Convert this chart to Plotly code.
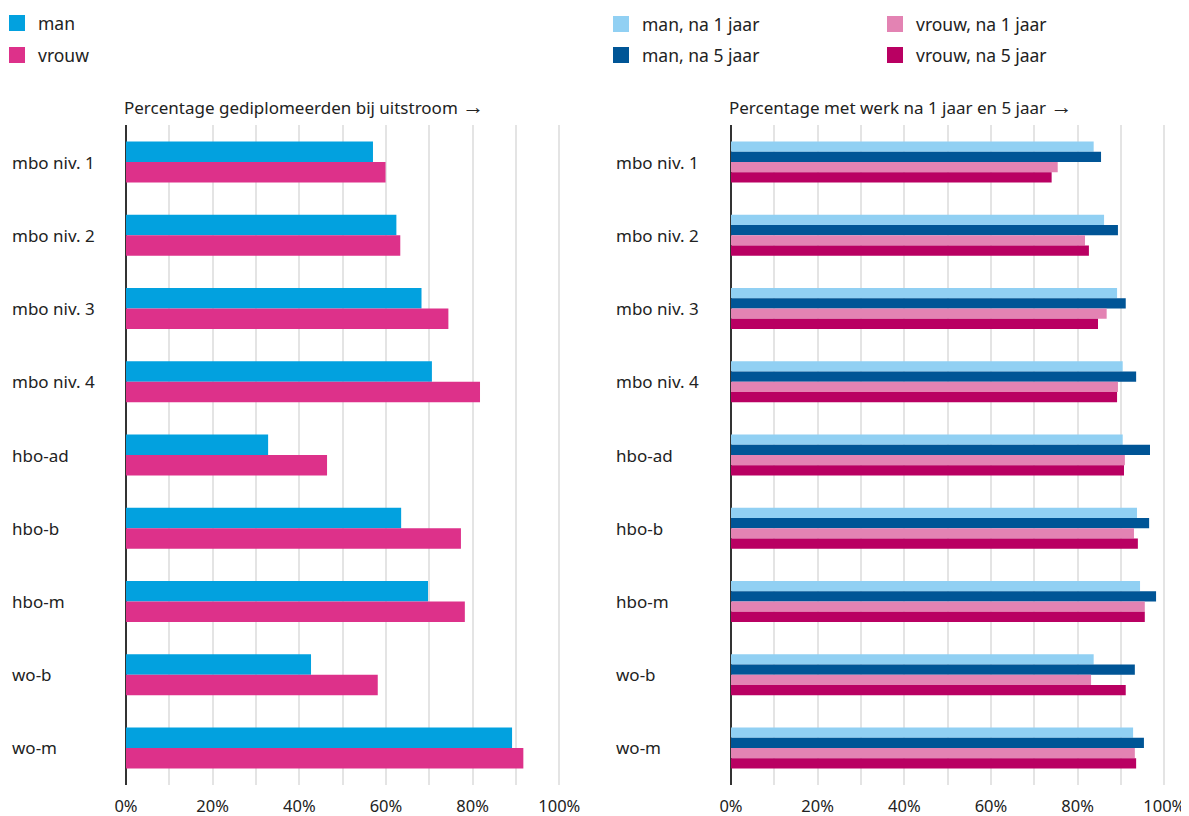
import plotly.graph_objects as go

categories = ["mbo niv. 1", "mbo niv. 2", "mbo niv. 3", "mbo niv. 4", "hbo-ad",
              "hbo-b", "hbo-m", "wo-b", "wo-m"]

gedipl_man = [57.0, 62.4, 68.2, 70.6, 32.8, 63.5, 69.7, 42.7, 89.1]
gedipl_vrouw = [59.9, 63.3, 74.4, 81.7, 46.4, 77.3, 78.2, 58.1, 91.7]

werk_man_1 = [83.7, 86.1, 89.1, 90.4, 90.4, 93.7, 94.4, 83.7, 92.8]
werk_man_5 = [85.4, 89.3, 91.1, 93.5, 96.7, 96.5, 98.1, 93.2, 95.3]
werk_vrouw_1 = [75.4, 81.7, 86.7, 89.3, 90.9, 93.0, 95.5, 83.1, 93.2]
werk_vrouw_5 = [74.0, 82.6, 84.7, 89.1, 90.7, 93.9, 95.5, 91.1, 93.5]

tick_vals = [0, 20, 40, 60, 80, 100]
tick_text = ["0%", "20%", "40%", "60%", "80%", "100%"]

title_left = "Percentage gediplomeerden bij uitstroom"
title_right = "Percentage met werk na 1 jaar en 5 jaar"

# page body has a default 8px margin: lay out in reference pixels minus OFF
OFF = 8
W, H = 1189 - OFF, 816 - OFF
FONT = "Noto Sans"
TXT = "#222222"
GRID = "#e4e4e4"

PX_PER_UNIT = 4.333
R0, R1 = -0.3, 100.6
LEFT0 = 126
RIGHT0 = 731


def px(x):
    return (x - OFF) / W


def py(y):
    return 1 - (y - OFF) / H


def xdom(x0):
    return [px(x0 + R0 * PX_PER_UNIT), px(x0 + R1 * PX_PER_UNIT)]


YTOP, YBOT = 125.4, 784.6
ydom = [py(YBOT), py(YTOP)]

fig = go.Figure()

left_series = [("man", gedipl_man, "#02a1df"), ("vrouw", gedipl_vrouw, "#dd318a")]
for name, vals, col in left_series:
    fig.add_trace(go.Bar(
        y=categories, x=vals, name=name, orientation="h",
        marker=dict(color=col, line=dict(width=0)),
        xaxis="x", yaxis="y", showlegend=False,
        hovertemplate="%{y}: %{x:.1f}%<extra>" + name + "</extra>",
    ))

right_series = [
    ("man, na 1 jaar", werk_man_1, "#91d0f3"),
    ("man, na 5 jaar", werk_man_5, "#005596"),
    ("vrouw, na 1 jaar", werk_vrouw_1, "#e383b3"),
    ("vrouw, na 5 jaar", werk_vrouw_5, "#b90062"),
]
for name, vals, col in right_series:
    fig.add_trace(go.Bar(
        y=categories, x=vals, name=name, orientation="h",
        marker=dict(color=col, line=dict(width=0)),
        xaxis="x2", yaxis="y2", showlegend=False,
        hovertemplate="%{y}: %{x:.1f}%<extra>" + name + "</extra>",
    ))

xa = dict(
    range=[R0, R1], tickvals=tick_vals, ticktext=tick_text,
    showgrid=True, gridcolor=GRID, gridwidth=2,
    minor=dict(dtick=10, tick0=0, showgrid=True, gridcolor=GRID, gridwidth=2),
    zeroline=True, zerolinecolor="#333333", zerolinewidth=2,
    showline=False, ticks="outside", ticklen=7, tickcolor="rgba(0,0,0,0)",
    tickfont=dict(family=FONT, size=16.5, color=TXT), fixedrange=True,
)
ya = dict(
    domain=ydom, type="category", categoryorder="array", categoryarray=categories,
    autorange="reversed", showticklabels=False, showgrid=False, zeroline=False,
    fixedrange=True,
)

annotations = []
shapes = []
for cat in categories:
    annotations.append(dict(x=px(10), xref="paper", y=cat, yref="y", text=cat,
                            showarrow=False, xanchor="left", yanchor="middle",
                            font=dict(family=FONT, size=17, color=TXT)))
    annotations.append(dict(x=px(614), xref="paper", y=cat, yref="y2", text=cat,
                            showarrow=False, xanchor="left", yanchor="middle",
                            font=dict(family=FONT, size=17, color=TXT)))

arrow = " <span style='font-size:22px'>→</span>"
annotations.append(dict(x=px(122), xref="paper", y=py(105), yref="paper",
                        text=title_left + arrow, showarrow=False, xanchor="left",
                        yanchor="middle", font=dict(family=FONT, size=17, color=TXT)))
annotations.append(dict(x=px(727), xref="paper", y=py(105), yref="paper",
                        text=title_right + arrow, showarrow=False, xanchor="left",
                        yanchor="middle", font=dict(family=FONT, size=17, color=TXT)))

# legend entries (square swatch + label)
SQ = 16
legend_items = [
    ("man", "#02a1df", 9, 23),
    ("vrouw", "#dd318a", 9, 55),
    ("man, na 1 jaar", "#91d0f3", 613, 24),
    ("man, na 5 jaar", "#005596", 613, 55),
    ("vrouw, na 1 jaar", "#e383b3", 887, 24),
    ("vrouw, na 5 jaar", "#b90062", 887, 55),
]
for label, col, x0, yc in legend_items:
    shapes.append(dict(type="rect", xref="paper", yref="paper",
                       x0=px(x0), x1=px(x0 + SQ), y0=py(yc + SQ / 2), y1=py(yc - SQ / 2),
                       fillcolor=col, line=dict(width=0)))
    annotations.append(dict(x=px(x0 + 27), xref="paper", y=py(yc), yref="paper",
                            text=label, showarrow=False, xanchor="left", yanchor="middle",
                            font=dict(family=FONT, size=17.5, color=TXT)))

fig.update_layout(
    width=W, height=H, autosize=False,
    margin=dict(l=0, r=0, t=0, b=0, autoexpand=False),
    paper_bgcolor="white", plot_bgcolor="white",
    barmode="group", bargap=0.44, bargroupgap=0,
    font=dict(family=FONT, color=TXT),
    xaxis=dict(domain=xdom(LEFT0), anchor="y", **xa),
    yaxis=dict(anchor="x", **ya),
    xaxis2=dict(domain=xdom(RIGHT0), anchor="y2", **xa),
    yaxis2=dict(anchor="x2", **ya),
    annotations=annotations,
    shapes=shapes,
    showlegend=False,
)

fig.write_html("out.html")
